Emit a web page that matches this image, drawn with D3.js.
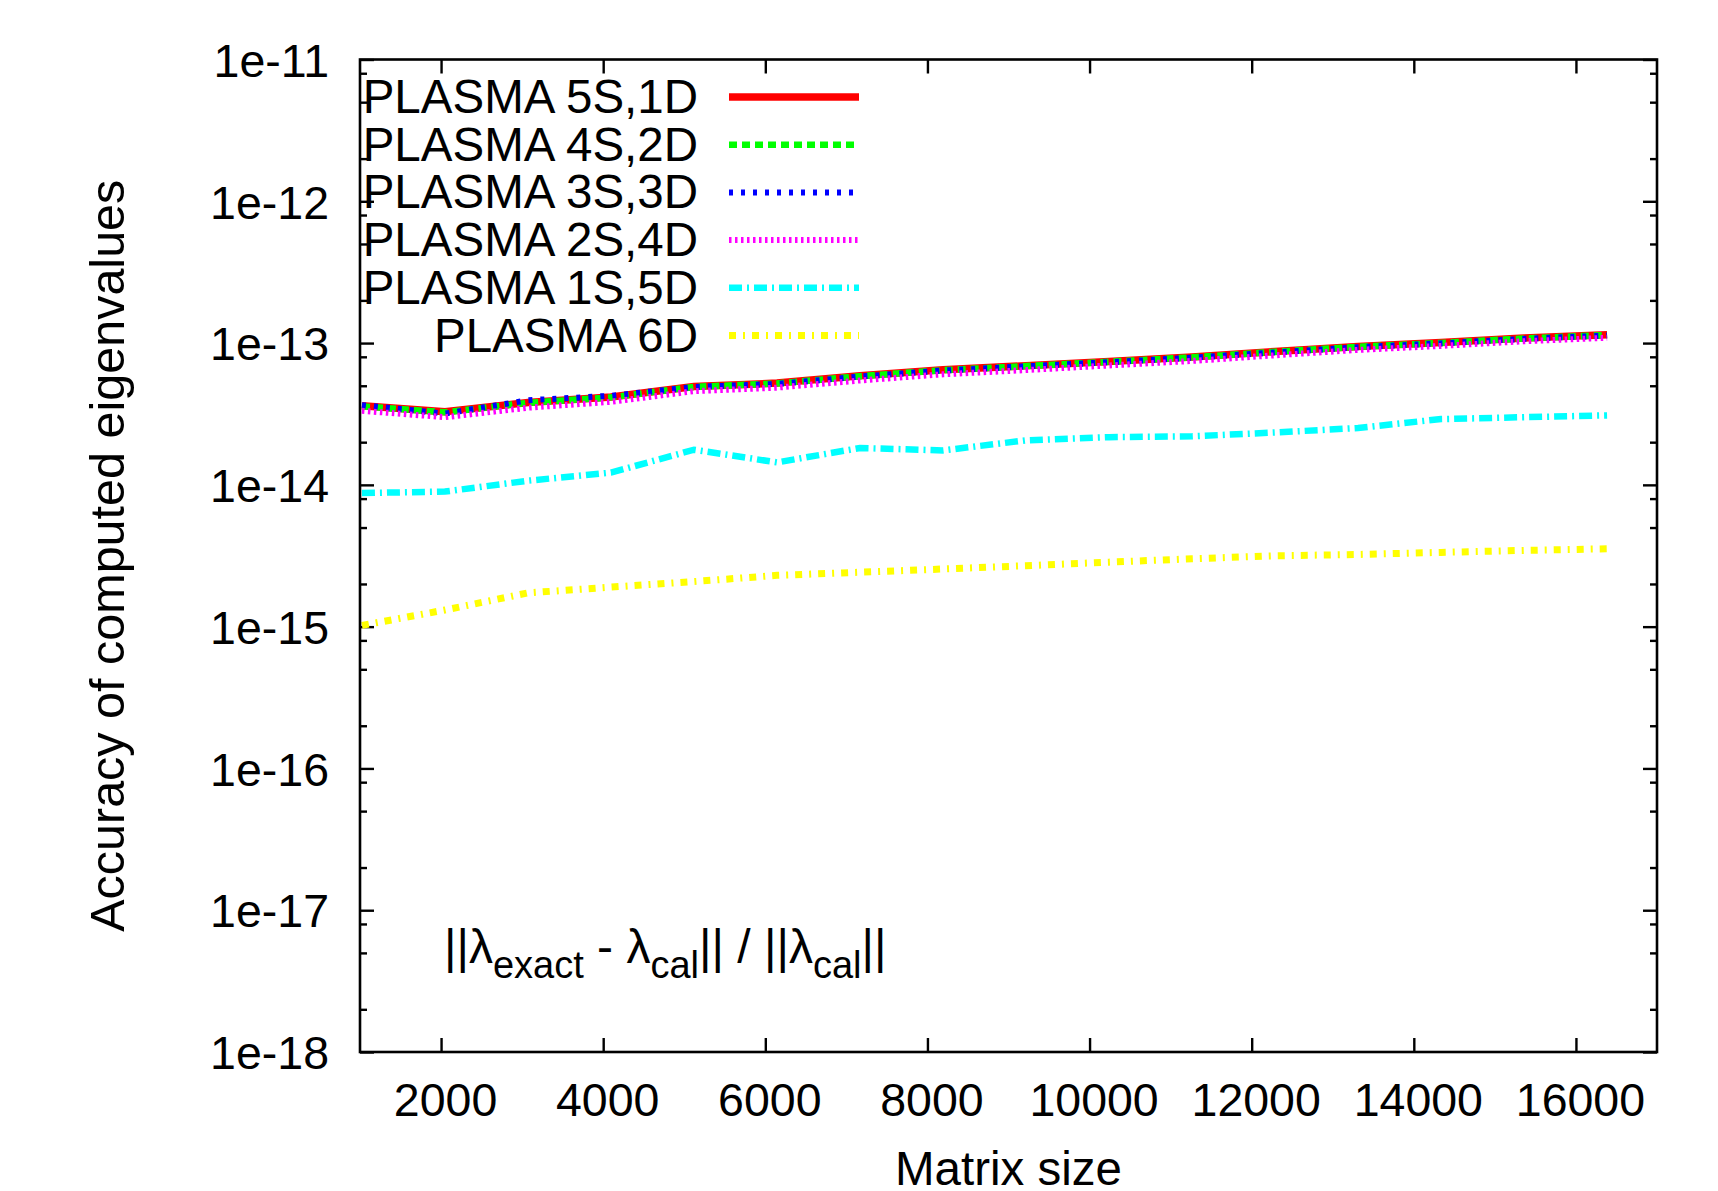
<!DOCTYPE html>
<html>
<head>
<meta charset="utf-8">
<script src="https://cdnjs.cloudflare.com/ajax/libs/d3/7.8.5/d3.min.js"></script>
<style>
body { margin: 0; background: #fff; }
svg text { font-family: "Liberation Sans", Arial, Helvetica, sans-serif; fill: #000; white-space: pre; }
</style>
</head>
<body>
<div id="chart"></div>
<script>
// matrix sizes (x) and accuracy values (y)
var matrix_sizes = [1024, 2048, 3072, 4096, 5120, 6144, 7168, 8192, 9216, 10240, 11264, 12288, 13312, 14336, 15360, 16384];

var plasma_5s1d = [3.61e-14, 3.28e-14, 3.81e-14, 4.16e-14, 4.94e-14, 5.22e-14, 5.88e-14, 6.49e-14, 6.92e-14, 7.42e-14, 7.97e-14, 8.73e-14, 9.47e-14, 1.009e-13, 1.084e-13, 1.145e-13];
var plasma_4s2d = [3.58e-14, 3.25e-14, 3.79e-14, 4.14e-14, 4.91e-14, 5.19e-14, 5.84e-14, 6.44e-14, 6.88e-14, 7.38e-14, 7.93e-14, 8.68e-14, 9.41e-14, 1.003e-13, 1.078e-13, 1.140e-13];
var plasma_3s3d = [3.65e-14, 3.18e-14, 3.95e-14, 4.25e-14, 4.90e-14, 5.15e-14, 5.80e-14, 6.40e-14, 6.85e-14, 7.33e-14, 7.88e-14, 8.60e-14, 9.35e-14, 9.95e-14, 1.070e-13, 1.130e-13];
var plasma_2s4d = [3.33e-14, 3.00e-14, 3.50e-14, 3.85e-14, 4.58e-14, 4.85e-14, 5.45e-14, 6.02e-14, 6.45e-14, 6.95e-14, 7.48e-14, 8.20e-14, 8.95e-14, 9.55e-14, 1.030e-13, 1.090e-13];
var plasma_1s5d = [8.75e-15, 8.97e-15, 1.07e-14, 1.22e-14, 1.77e-14, 1.44e-14, 1.82e-14, 1.75e-14, 2.06e-14, 2.17e-14, 2.20e-14, 2.34e-14, 2.52e-14, 2.91e-14, 3.00e-14, 3.09e-14];
var plasma_6d   = [1.02e-15, 1.31e-15, 1.73e-15, 1.90e-15, 2.08e-15, 2.30e-15, 2.42e-15, 2.55e-15, 2.69e-15, 2.85e-15, 3.01e-15, 3.16e-15, 3.23e-15, 3.34e-15, 3.45e-15, 3.54e-15];

var series_names = ["PLASMA 5S,1D", "PLASMA 4S,2D", "PLASMA 3S,3D", "PLASMA 2S,4D", "PLASMA 1S,5D", "PLASMA 6D"];
var series_values = [plasma_5s1d, plasma_4s2d, plasma_3s3d, plasma_2s4d, plasma_1s5d, plasma_6d];

var x_tick_values = [2000, 4000, 6000, 8000, 10000, 12000, 14000, 16000];
var x_tick_labels = ["2000", "4000", "6000", "8000", "10000", "12000", "14000", "16000"];
var y_tick_values = [1e-11, 1e-12, 1e-13, 1e-14, 1e-15, 1e-16, 1e-17, 1e-18];
var y_tick_labels = ["1e-11", "1e-12", "1e-13", "1e-14", "1e-15", "1e-16", "1e-17", "1e-18"];
var y_minor_steps = [2, 5, 8];

// line styles (gnuplot-like)
var line_styles = [
    {color: "#ff0000", width: 7.5, dash: null},
    {color: "#00ff00", width: 6.5, dash: "8,5"},
    {color: "#0000ff", width: 6,   dash: "4,8"},
    {color: "#ff00ff", width: 6,   dash: "2.5,3.5"},
    {color: "#00ffff", width: 6.5, dash: "13,5,2,5"},
    {color: "#ffff00", width: 7,   dash: "7,7,2,7"}
];

var svg_w = 1718, svg_h = 1191;
var plot_l = 360, plot_r = 1657, plot_t = 59.5, plot_b = 1052;

var svg = d3.select("#chart").append("svg")
            .attr("width", svg_w).attr("height", svg_h);
svg.append("rect").attr("width", svg_w).attr("height", svg_h).attr("fill", "#fff");

var x = d3.scaleLinear().domain([1000, 17000]).range([plot_l, plot_r]);
var y = d3.scaleLog().domain([1e-18, 1e-11]).range([plot_b, plot_t]);

// minor tick positions on the log axis
var y_minor = [];
for (var i = 1; i < y_tick_values.length; i++) {
    for (var j = 0; j < y_minor_steps.length; j++) {
        y_minor.push(y_tick_values[i] * y_minor_steps[j]);
    }
}

function style_axis(g, fsize) {
    g.select(".domain").remove();
    g.selectAll(".tick line").attr("stroke", "#000").attr("stroke-width", 2.4);
    g.selectAll(".tick text").style("font-size", fsize + "px").attr("fill", "#000");
}

// left axis with labels
var gl = svg.append("g").attr("transform", "translate(" + plot_l + ",0)")
    .call(d3.axisLeft(y).tickValues(y_tick_values)
          .tickFormat(function (d, i) { return y_tick_labels[i]; })
          .tickSizeInner(-14).tickSizeOuter(0).tickPadding(31));
style_axis(gl, 46.5);
gl.selectAll(".tick text").attr("dy", "0.36em");

svg.append("g").attr("transform", "translate(" + plot_l + ",0)")
    .call(d3.axisLeft(y).tickValues(y_minor).tickFormat("").tickSizeInner(-7).tickSizeOuter(0))
    .call(style_axis, 46);

// right axis mirror ticks
svg.append("g").attr("transform", "translate(" + plot_r + ",0)")
    .call(d3.axisRight(y).tickValues(y_tick_values).tickFormat("").tickSizeInner(-14).tickSizeOuter(0))
    .call(style_axis, 46);
svg.append("g").attr("transform", "translate(" + plot_r + ",0)")
    .call(d3.axisRight(y).tickValues(y_minor).tickFormat("").tickSizeInner(-7).tickSizeOuter(0))
    .call(style_axis, 46);

// bottom axis with labels
var gb = svg.append("g").attr("transform", "translate(0," + plot_b + ")")
    .call(d3.axisBottom(x).tickValues(x_tick_values)
          .tickFormat(function (d, i) { return x_tick_labels[i]; })
          .tickSizeInner(-14).tickSizeOuter(0).tickPadding(31));
style_axis(gb, 46.5);
gb.selectAll(".tick text").attr("dx", 4);

// top axis mirror ticks
svg.append("g").attr("transform", "translate(0," + plot_t + ")")
    .call(d3.axisTop(x).tickValues(x_tick_values).tickFormat("").tickSizeInner(-14).tickSizeOuter(0))
    .call(style_axis, 46);

// data lines
var line = d3.line()
             .x(function (d) { return x(d[0]); })
             .y(function (d) { return y(d[1]); });

for (var k = 0; k < series_values.length; k++) {
    var pts = [];
    for (var m = 0; m < matrix_sizes.length; m++) {
        pts.push([matrix_sizes[m], series_values[k][m]]);
    }
    var st = line_styles[k];
    svg.append("path")
       .datum(pts)
       .attr("d", line)
       .attr("fill", "none")
       .attr("stroke", st.color)
       .attr("stroke-width", st.width)
       .attr("stroke-dasharray", st.dash)
       .attr("stroke-linejoin", "miter");
}

// legend, top left, text right aligned
for (var k = 0; k < series_names.length; k++) {
    var st = line_styles[k];
    var by = 113 + k * 47.7;
    svg.append("text")
       .attr("x", 698).attr("y", by)
       .attr("text-anchor", "end")
       .style("font-size", "47.5px")
       .text(series_names[k]);
    svg.append("line")
       .attr("x1", 729).attr("x2", 859)
       .attr("y1", by - 16).attr("y2", by - 16)
       .attr("stroke", st.color)
       .attr("stroke-width", st.width)
       .attr("stroke-dasharray", st.dash);
}

// frame
svg.append("rect")
   .attr("x", plot_l).attr("y", plot_t)
   .attr("width", plot_r - plot_l).attr("height", plot_b - plot_t)
   .attr("fill", "none").attr("stroke", "#000").attr("stroke-width", 2.6);

// annotation ||lambda_exact - lambda_cal|| / ||lambda_cal||
var note = svg.append("text").attr("x", 444).attr("y", 963).style("font-size", "48px");
note.append("tspan").text("||λ");
note.append("tspan").attr("dy", 15).style("font-size", "38px").text("exact");
note.append("tspan").attr("dy", -15).text(" - λ");
note.append("tspan").attr("dy", 15).style("font-size", "38px").text("cal");
note.append("tspan").attr("dy", -15).text("|| / ||λ");
note.append("tspan").attr("dy", 15).style("font-size", "38px").text("cal");
note.append("tspan").attr("dy", -15).text("||");

// axis titles
svg.append("text")
   .attr("x", (plot_l + plot_r) / 2).attr("y", 1185)
   .attr("text-anchor", "middle")
   .style("font-size", "47.5px")
   .text("Matrix size");

svg.append("text")
   .attr("transform", "translate(124," + ((plot_t + plot_b) / 2) + ") rotate(-90)")
   .attr("text-anchor", "middle")
   .style("font-size", "48.5px")
   .text("Accuracy of computed eigenvalues");
</script>
</body>
</html>
